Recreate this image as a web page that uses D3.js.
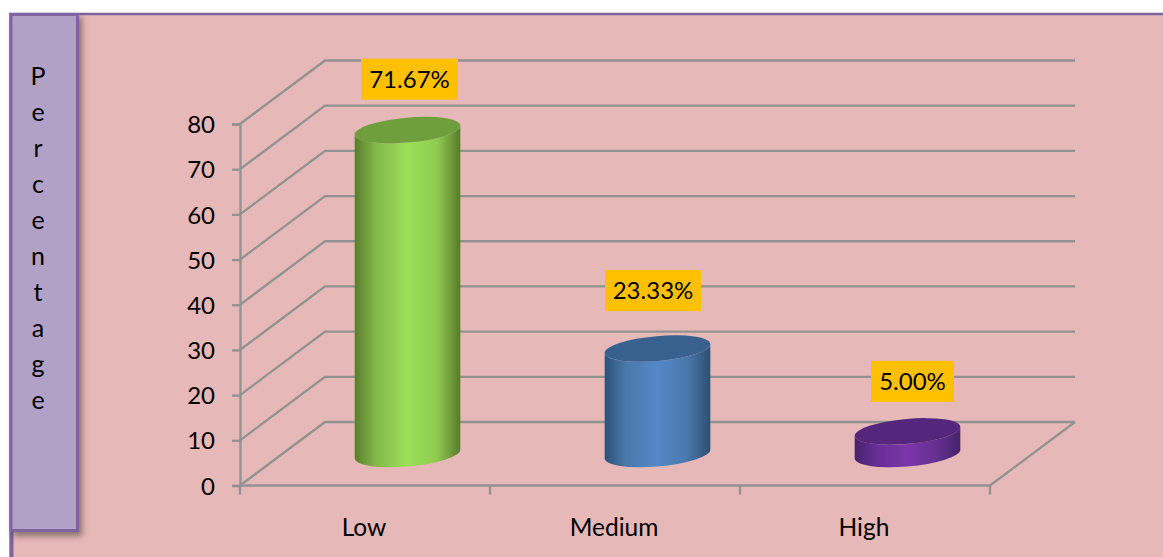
<!DOCTYPE html>
<html><head><meta charset="utf-8">
<style>html,body{margin:0;padding:0;background:#fff;overflow:hidden}svg{display:block}text{font-family:Lato,"Open Sans",sans-serif;fill:#000}</style>
<script src="https://cdnjs.cloudflare.com/ajax/libs/d3/7.8.5/d3.min.js"></script>
</head><body><script>
const categories = ["Low", "Medium", "High"];
const values = [71.67, 23.33, 5.00];
const valueLabels = ["71.67%", "23.33%", "5.00%"];
const yTicks = [0, 10, 20, 30, 40, 50, 60, 70, 80];
const axisTitle = "Percentage".split("");
const sideColors = [["#587f2c","#84b84a","#9ce058","#8fcb50","#567a2b"],["#2d5178","#4a78aa","#5588c8","#4a79ac","#2f4f70"],["#47226c","#672e95","#7c36aa","#642f90","#46236a"]];
const topColors = ["#6f9e3d", "#386190", "#55267b"];
// layout
const W = 1163, H = 557, dx = 85, dy = -63.5, rx = 53, ry = 12.5, tilt = -5;
const labelNudge = [[2,-51,97],[-4.5,-58,96],[5,-50,83]];

const svg = d3.select("body").append("svg").attr("width", W).attr("height", H);
const defs = svg.append("defs");
const sh = defs.append("filter").attr("id","sh").attr("x","-20%").attr("y","-5%").attr("width","140%").attr("height","110%");
sh.append("feDropShadow").attr("dx",3).attr("dy",4).attr("stdDeviation",3).attr("flood-color","#000").attr("flood-opacity",.4);

svg.append("rect").attr("x",9).attr("y",13).attr("width",W-9).attr("height",H-13).attr("fill","#E6B8B7");
svg.append("line").attr("x1",9).attr("x2",W).attr("y1",14).attr("y2",14).attr("stroke","#8064A2").attr("stroke-width",2.5);
svg.append("line").attr("x1",11.5).attr("x2",11.5).attr("y1",13).attr("y2",H).attr("stroke","#8064A2").attr("stroke-width",4);
svg.append("rect").attr("x",11).attr("y",14.5).attr("width",66.5).attr("height",516).attr("fill","#B2A1C7").attr("stroke","#8064A2").attr("stroke-width",3).attr("filter","url(#sh)");
svg.append("g").selectAll("text").data(axisTitle).join("text").attr("x",38).attr("y",(d,i)=>85+i*36).attr("text-anchor","middle").attr("font-size",25).text(d=>d);

const x = d3.scaleBand().domain(categories).range([240,990]);
const y = d3.scaleLinear().domain([0,80]).range([485.5,124]);

const gridColor = "#929292";
const grid = svg.append("g").attr("fill","none").attr("stroke",gridColor).attr("stroke-width",2.3);
grid.selectAll("path").data(yTicks).join("path")
  .attr("d", v => d3.line()([[x.range()[0],y(v)],[x.range()[0]+dx,y(v)+dy],[x.range()[1]+dx,y(v)+dy]]));
grid.append("path").attr("d", d3.line()([[x.range()[1],y(0)],[x.range()[1]+dx,y(0)+dy]]));

const ay = svg.append("g").attr("transform",`translate(${x.range()[0]},0)`).call(d3.axisLeft(y).tickValues(yTicks).tickSize(8).tickPadding(17).tickFormat(d3.format("d")));
const ax = svg.append("g").attr("transform",`translate(0,${y(0)})`).call(d3.axisBottom(x).tickValues([]).tickSizeOuter(0));
ax.selectAll("*").remove();
ax.append("line").attr("x1",x.range()[0]).attr("x2",x.range()[1]).attr("stroke",gridColor).attr("stroke-width",2.3);
ax.selectAll(".edge").data(d3.range(categories.length+1)).join("line").attr("class","edge")
  .attr("x1",i=>x.range()[0]+i*x.bandwidth()).attr("x2",i=>x.range()[0]+i*x.bandwidth()).attr("y1",0).attr("y2",9).attr("stroke",gridColor).attr("stroke-width",2.3);
ax.selectAll("text.cat").data(categories).join("text").attr("class","cat")
  .attr("x",d=>x(d)+x.bandwidth()/2-1).attr("y",50.5).attr("text-anchor","middle").attr("font-size",24.5).text(d=>d);
ay.select(".domain").attr("stroke",gridColor).attr("stroke-width",2.3);
ay.selectAll(".tick line").attr("stroke",gridColor).attr("stroke-width",2.3);
ay.selectAll(".tick text").attr("font-size",24).attr("font-family","Lato").attr("dy","0.36em");

// cylinder silhouette points: extreme-x points of a tilted ellipse
const phi = tilt*Math.PI/180;
const t0 = Math.atan2(-ry*Math.sin(phi), rx*Math.cos(phi));
const ex = rx*Math.cos(t0)*Math.cos(phi) - ry*Math.sin(t0)*Math.sin(phi);
const ey = rx*Math.cos(t0)*Math.sin(phi) + ry*Math.sin(t0)*Math.cos(phi);

categories.forEach((c,i)=>{
  const g = defs.append("linearGradient").attr("id","g"+i);
  sideColors[i].forEach((col,k)=>g.append("stop").attr("offset",[0,.2,.5,.78,1][k]).attr("stop-color",col));
  const cx = x(c)+x.bandwidth()/2+dx/2;
  const by = y(0)-31.5, ty = y(values[i])-31.5;
  svg.append("path").attr("fill",`url(#g${i})`)
    .attr("d",`M${cx-ex},${ty-ey}L${cx-ex},${by-ey}A${rx},${ry} ${tilt} 0 0 ${cx+ex},${by+ey}L${cx+ex},${ty+ey}A${rx},${ry} ${tilt} 0 1 ${cx-ex},${ty-ey}Z`);
  svg.append("ellipse").attr("cx",cx).attr("cy",ty).attr("rx",rx).attr("ry",ry).attr("fill",topColors[i])
    .attr("transform",`rotate(${tilt} ${cx} ${ty})`);
  const [nx,ny,bw] = labelNudge[i];
  const lx = cx+nx, ly = ty+ny;
  svg.append("rect").attr("x",lx-bw/2).attr("y",ly-20.5).attr("width",bw).attr("height",41).attr("fill","#FFC000");
  svg.append("text").attr("x",lx).attr("y",ly+8.5).attr("text-anchor","middle").attr("font-size",24).text(valueLabels[i]);
});
</script></body></html>
